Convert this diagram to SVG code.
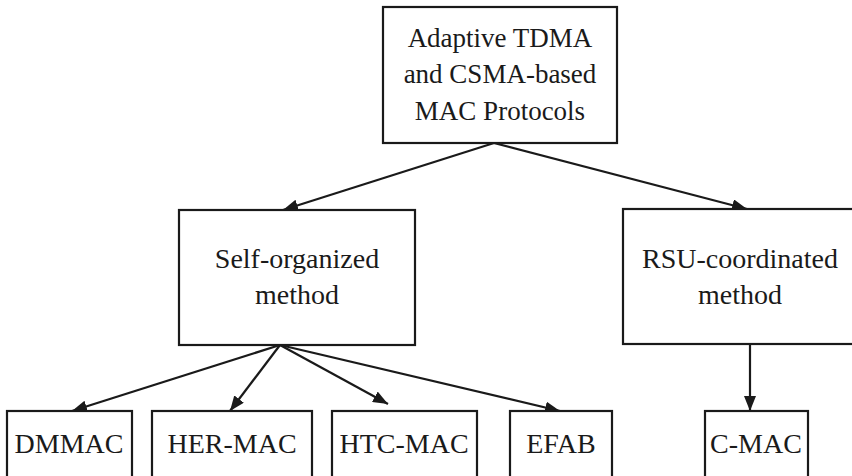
<svg xmlns="http://www.w3.org/2000/svg" width="852" height="476" viewBox="0 0 852 476">
<style>
.box{fill:#fff;stroke:#1a1a1a;stroke-width:2.2}
text{font-family:'Liberation Serif','Times New Roman',Times,serif;font-size:28px;fill:#1a1a1a;text-anchor:middle}
.top{font-size:27px}
.c{stroke:#1a1a1a;stroke-width:2.2;fill:none;marker-end:url(#ah)}
</style>
<defs>
<marker id="ah" markerUnits="userSpaceOnUse" markerWidth="16" markerHeight="12" refX="15" refY="6" orient="auto">
<path d="M0,0 L15,6 L0,12 Z" fill="#1a1a1a"/>
</marker>
</defs>
<rect width="852" height="476" fill="#fff"/>
<g id="connectors">
<line class="c" x1="494" y1="143" x2="283" y2="210"/>
<line class="c" x1="494" y1="143" x2="747" y2="209"/>
<line class="c" x1="280" y1="345" x2="72" y2="411"/>
<line class="c" x1="280" y1="345" x2="230" y2="411"/>
<line class="c" x1="280" y1="345" x2="388" y2="404"/>
<line class="c" x1="280" y1="345" x2="560" y2="411"/>
<line class="c" x1="750" y1="344" x2="750" y2="411"/>
</g>
<g id="root" font-family="Liberation Serif, serif">
<rect class="box" x="383" y="7" width="234" height="136"/>
<text class="top" x="500" y="47">Adaptive TDMA</text>
<text class="top" x="500" y="83">and CSMA-based</text>
<text class="top" x="500" y="120">MAC Protocols</text>
</g>
<g id="self-organized">
<rect class="box" x="179" y="210" width="236" height="135"/>
<text x="297" y="268">Self-organized</text>
<text x="297" y="304">method</text>
</g>
<g id="rsu-coordinated">
<rect class="box" x="623" y="209" width="236" height="135"/>
<text x="740" y="268">RSU-coordinated</text>
<text x="740" y="304">method</text>
</g>
<g id="dmmac">
<rect class="box" x="7" y="411" width="125" height="72"/>
<text x="69" y="453">DMMAC</text>
</g>
<g id="her-mac">
<rect class="box" x="152" y="411" width="160" height="72"/>
<text x="232" y="453">HER-MAC</text>
</g>
<g id="htc-mac">
<rect class="box" x="332" y="411" width="145" height="72"/>
<text x="404" y="453">HTC-MAC</text>
</g>
<g id="efab">
<rect class="box" x="510" y="411" width="102" height="72"/>
<text x="561" y="453">EFAB</text>
</g>
<g id="c-mac">
<rect class="box" x="705" y="411" width="103" height="72"/>
<text x="756" y="453">C-MAC</text>
</g>
</svg>
